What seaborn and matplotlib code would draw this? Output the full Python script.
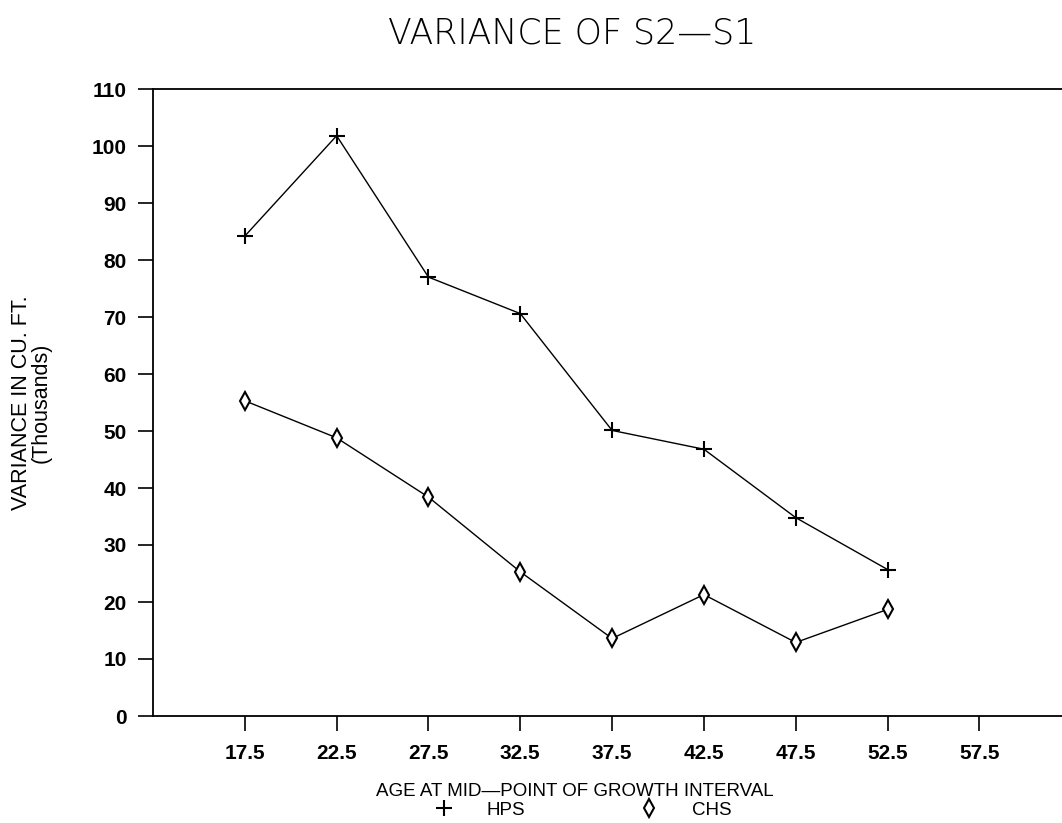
import numpy as np
import pandas as pd
import matplotlib
matplotlib.use("Agg")
import matplotlib.pyplot as plt
import seaborn as sns
from matplotlib.lines import Line2D

ages = [17.5, 22.5, 27.5, 32.5, 37.5, 42.5, 47.5, 52.5]
hps = [84.2, 101.8, 77.0, 70.6, 50.1, 46.8, 34.8, 25.7]
chs = [55.3, 48.8, 38.4, 25.3, 13.6, 21.3, 12.9, 18.7]
series_names = ["HPS", "CHS"]
xticks = [17.5, 22.5, 27.5, 32.5, 37.5, 42.5, 47.5, 52.5, 57.5]
yticks = list(range(0, 111, 10))

df_hps = pd.DataFrame({"age": ages, "value": hps})
df_chs = pd.DataFrame({"age": ages, "value": chs})

sns.set_theme(style="white")
plt.rcParams['font.family'] = ['Liberation Sans', 'DejaVu Sans']
plt.rcParams['text.color'] = 'black'
plt.rcParams['axes.labelcolor'] = 'black'
plt.rcParams['xtick.color'] = 'black'
plt.rcParams['ytick.color'] = 'black'

fig = plt.figure(figsize=(10.62, 8.23), dpi=100)
ax = fig.add_axes([153/1062, 1 - 716/823, 1 - 153/1062, (716 - 89)/823])

sns.lineplot(data=df_hps, x="age", y="value", color="black", marker="+",
             markersize=11, markeredgewidth=1.5, markeredgecolor="black",
             linewidth=1.0, ax=ax)
sns.lineplot(data=df_chs, x="age", y="value", color="black", marker="d",
             markersize=9, markeredgewidth=1.5, markerfacecolor="white",
             markeredgecolor="black", linewidth=1.0, ax=ax)

ax.set_xlim(12.5, 62.0)
ax.set_ylim(0, 110)
ax.set_xticks(xticks)
ax.set_xticklabels([f"{t:.1f}" for t in xticks])
ax.set_yticks(yticks)
for lab in ax.get_xticklabels() + ax.get_yticklabels():
    lab.set_fontsize(15)
    lab.set_fontweight("bold")
    lab.set_color("black")
ax.tick_params(axis="both", direction="out", length=11, width=1.2,
               color="black", pad=8, left=True, bottom=True)
ax.tick_params(axis="x", pad=9)
for side in ["left", "bottom", "top"]:
    ax.spines[side].set_visible(True)
    ax.spines[side].set_color("black")
    ax.spines[side].set_linewidth(1.3)
ax.spines["right"].set_visible(False)
ax.grid(False)

ax.set_xlabel("")
ax.set_ylabel("VARIANCE IN CU. FT.\n(Thousands)", fontsize=15.5, labelpad=29,
              linespacing=0.9, color="black")

fig.text(575/1062, 1 - 791/823, "AGE AT MID\u2014POINT OF GROWTH INTERVAL",
         ha="center", va="center", fontsize=13.5, color="black")

fig.text(572/1062, 1 - 33/823, "VARIANCE OF S2\u2014S1", ha="center",
         va="center", fontsize=25, fontweight="light", color="black",
         family=["DejaVu Sans"])

handles = [
    Line2D([], [], color="black", marker="+", linestyle="none",
           markersize=11, markeredgewidth=1.5),
    Line2D([], [], color="black", marker="d", linestyle="none",
           markersize=9, markeredgewidth=1.5, markerfacecolor="white"),
]
fig.legend(handles, series_names, loc="center", ncol=2, frameon=False,
           bbox_to_anchor=(583/1062, 1 - 810/823), fontsize=13.5,
           handlelength=1.0, handletextpad=1.8, columnspacing=6.1,
           borderpad=0, borderaxespad=0, labelcolor="black")

fig.savefig("out.png", dpi=100)
